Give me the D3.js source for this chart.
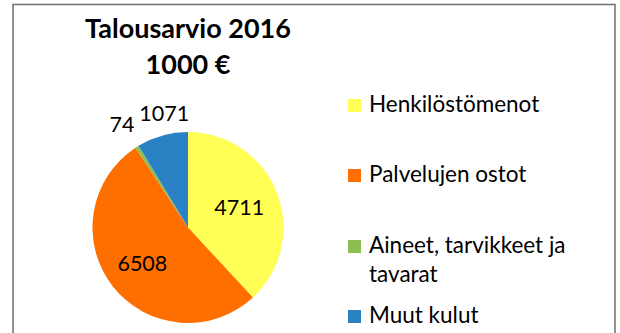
<!DOCTYPE html>
<html>
<head>
<meta charset="utf-8">
<script src="https://cdn.jsdelivr.net/npm/d3@7"></script>
<style>
  html, body { margin: 0; padding: 0; background: #fff; }
  svg { display: block; font-family: Lato, "Open Sans", sans-serif; }
</style>
</head>
<body>
<svg id="chart" width="620" height="333"></svg>
<script>
// Budget 2016, thousands of euros
const categories = ["Henkilöstömenot", "Palvelujen ostot", "Aineet, tarvikkeet ja tavarat", "Muut kulut"];
const legendLines = [["Henkilöstömenot"], ["Palvelujen ostot"], ["Aineet, tarvikkeet ja", "tavarat"], ["Muut kulut"]];
const values = [4711, 6508, 74, 1071];
const colors = ["#FFFF55", "#FF6F00", "#8CBF4F", "#2A82C4"];
const titleLines = ["Talousarvio 2016", "1000 €"];

const svg = d3.select("#chart");

// chart frame
svg.append("rect")
  .attr("x", 13).attr("y", 4.5)
  .attr("width", 602).attr("height", 360)
  .attr("fill", "#fff")
  .attr("stroke", "#6f6f6f").attr("stroke-width", 1.5);

// title
svg.append("g").selectAll("text").data(titleLines).join("text")
  .attr("x", 188)
  .attr("y", (d, i) => 38 + i * 36)
  .attr("text-anchor", "middle")
  .attr("font-weight", "bold")
  .attr("font-size", 27)
  .attr("fill", "#000")
  .text(d => d);

// pie
const cx = 188, cy = 227.5, R = 95.5;
const pie = d3.pie().sort(null).value(d => d)(values);
const arc = d3.arc().innerRadius(0).outerRadius(R);
const g = svg.append("g").attr("transform", `translate(${cx},${cy})`);

g.selectAll("path").data(pie).join("path")
  .attr("d", arc)
  .attr("fill", (d, i) => colors[i]);

// data labels: large slices inside, small slices outside the rim
const labelR = [55, 58, 122, 118];
const labelShift = [0, 0, -1, 8];
g.selectAll("text").data(pie).join("text")
  .attr("transform", (d, i) => {
    const a = d3.arc().innerRadius(labelR[i]).outerRadius(labelR[i]).centroid(d);
    return `translate(${a[0] + labelShift[i]},${a[1]})`;
  })
  .attr("text-anchor", "middle")
  .attr("dy", "0.35em")
  .attr("font-size", 21.5)
  .attr("fill", "#000")
  .text(d => d.data);

// legend
const rowY = [112, 182, 253, 323];
const legend = svg.append("g").selectAll("g").data(categories).join("g")
  .attr("transform", (d, i) => `translate(348,${rowY[i]})`);
legend.append("rect")
  .attr("x", 0).attr("y", -13)
  .attr("width", 13).attr("height", 13)
  .attr("fill", (d, i) => colors[i]);
legend.append("text")
  .attr("x", 21).attr("y", 0)
  .attr("font-size", 22.5)
  .attr("fill", "#000")
  .selectAll("tspan").data((d, i) => legendLines[i]).join("tspan")
  .attr("x", 21)
  .attr("dy", (d, j) => j === 0 ? 0 : 29)
  .text(d => d);
</script>
</body>
</html>
